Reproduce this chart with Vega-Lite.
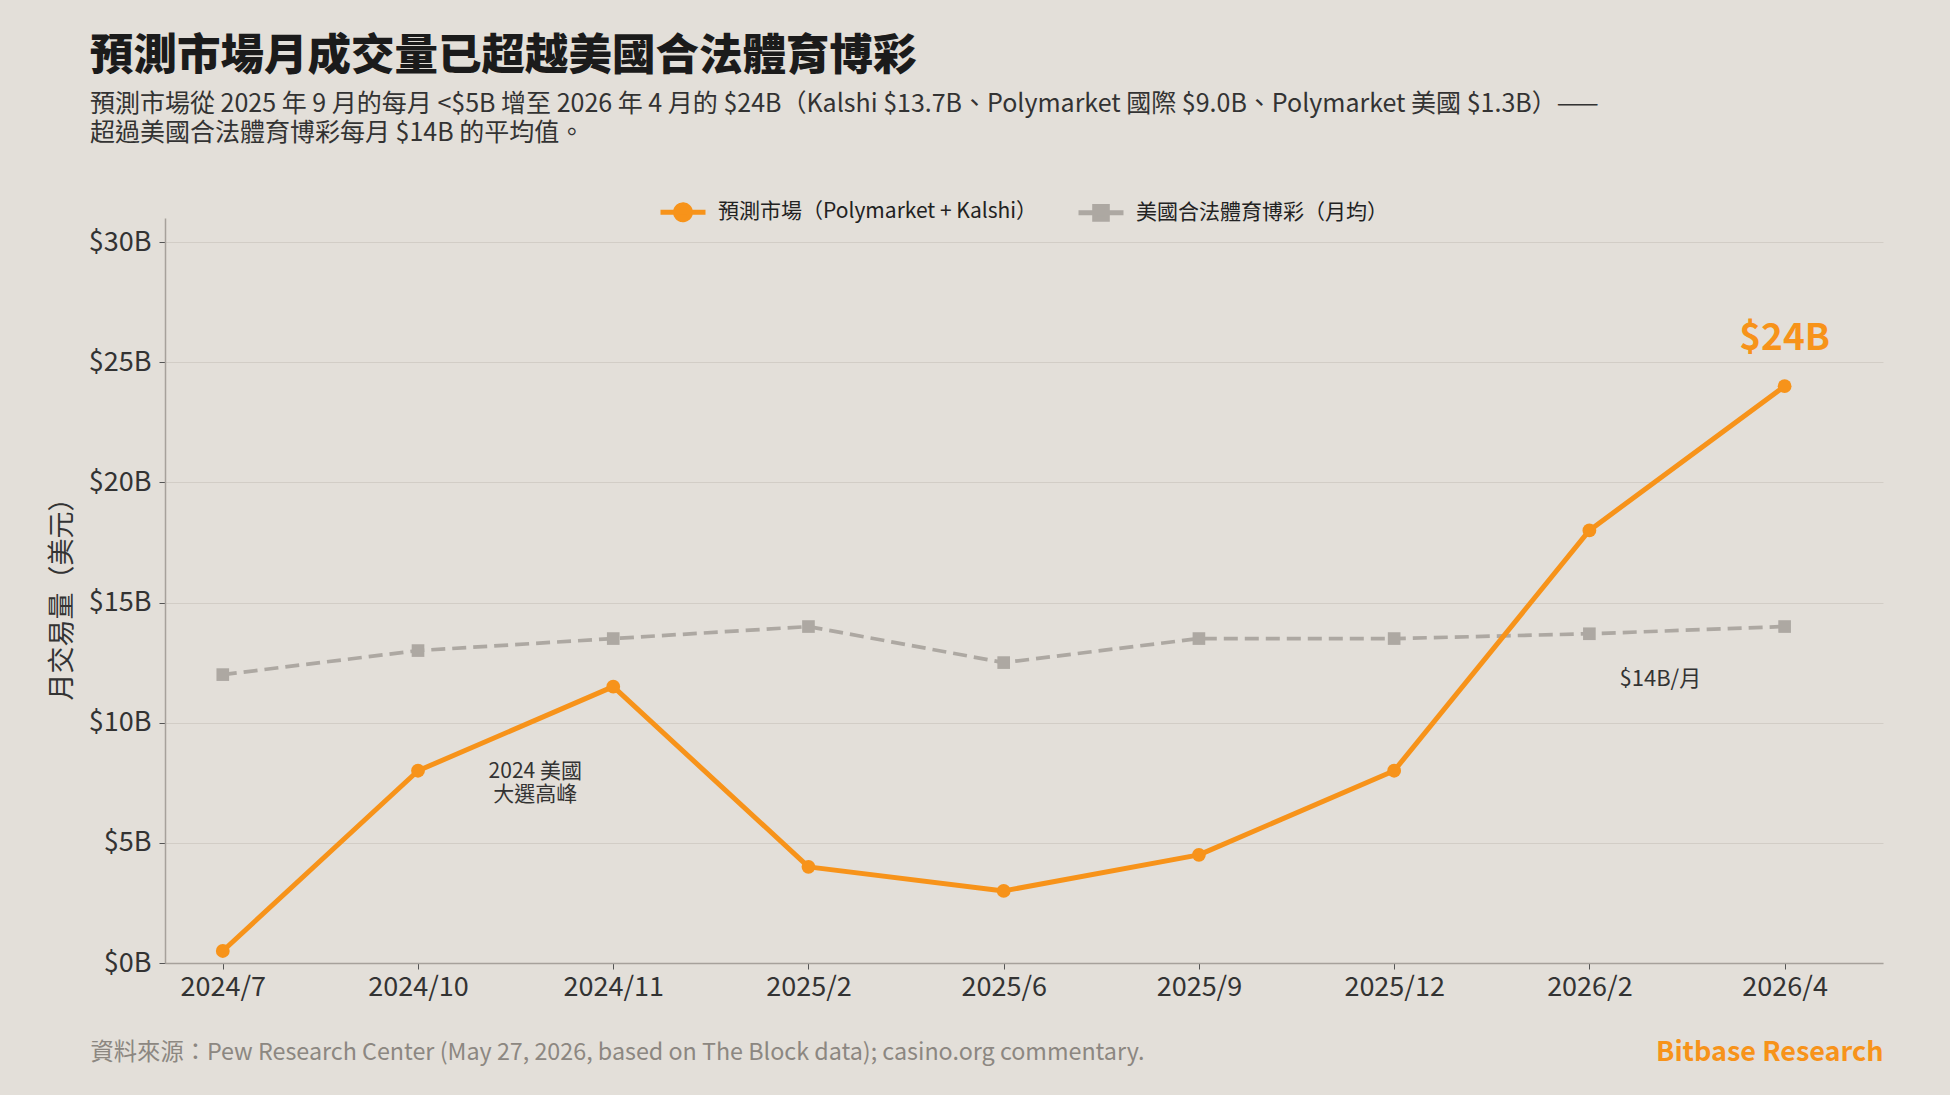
{
  "$schema": "https://vega.github.io/schema/vega-lite/v6.json",
  "autosize": {"type": "none"},
  "width": 1718,
  "height": 745,
  "padding": {"left": 165, "top": 218, "right": 67, "bottom": 132},
  "background": "#E3DFD9",
  "config": {
    "font": "Noto Sans CJK TC",
    "view": {"stroke": null},
    "axis": {"labelFont": "Noto Sans CJK TC", "titleFont": "Noto Sans CJK TC"},
    "legend": {"labelFont": "Noto Sans CJK TC"}
  },
  "title": {
    "text": "預測市場月成交量已超越美國合法體育博彩",
    "subtitle": ["預測市場從 2025 年 9 月的每月 <$5B 增至 2026 年 4 月的 $24B（Kalshi $13.7B、Polymarket 國際 $9.0B、Polymarket 美國 $1.3B）——", "超過美國合法體育博彩每月 $14B 的平均值。"],
    "anchor": "start",
    "frame": "group",
    "dx": -75,
    "offset": 40,
    "fontSize": 43.5,
    "fontWeight": 900,
    "color": "#1B1B1B",
    "subtitleFontSize": 25,
    "subtitleColor": "#333333",
    "subtitleLineHeight": 29.5,
    "subtitlePadding": 12
  },
  "datasets": {
    "series": [
      {"month": "2024/7", "series": "預測市場（Polymarket + Kalshi）", "value": 0.5},
      {"month": "2024/10", "series": "預測市場（Polymarket + Kalshi）", "value": 8},
      {"month": "2024/11", "series": "預測市場（Polymarket + Kalshi）", "value": 11.5},
      {"month": "2025/2", "series": "預測市場（Polymarket + Kalshi）", "value": 4},
      {"month": "2025/6", "series": "預測市場（Polymarket + Kalshi）", "value": 3},
      {"month": "2025/9", "series": "預測市場（Polymarket + Kalshi）", "value": 4.5},
      {"month": "2025/12", "series": "預測市場（Polymarket + Kalshi）", "value": 8},
      {"month": "2026/2", "series": "預測市場（Polymarket + Kalshi）", "value": 18},
      {"month": "2026/4", "series": "預測市場（Polymarket + Kalshi）", "value": 24},
      {"month": "2024/7", "series": "美國合法體育博彩（月均）", "value": 12},
      {"month": "2024/10", "series": "美國合法體育博彩（月均）", "value": 13},
      {"month": "2024/11", "series": "美國合法體育博彩（月均）", "value": 13.5},
      {"month": "2025/2", "series": "美國合法體育博彩（月均）", "value": 14},
      {"month": "2025/6", "series": "美國合法體育博彩（月均）", "value": 12.5},
      {"month": "2025/9", "series": "美國合法體育博彩（月均）", "value": 13.5},
      {"month": "2025/12", "series": "美國合法體育博彩（月均）", "value": 13.5},
      {"month": "2026/2", "series": "美國合法體育博彩（月均）", "value": 13.7},
      {"month": "2026/4", "series": "美國合法體育博彩（月均）", "value": 14}
    ],
    "notes": [
      {"kind": "peak", "month": "2024/11", "value": 7.95, "label": ["2024 美國", "大選高峰"]},
      {"kind": "avg", "month": "2026/2", "value": 11.8, "label": "$14B/月"},
      {"kind": "last", "month": "2026/4", "value": 24, "label": "$24B"}
    ]
  },
  "encoding": {
    "x": {
      "field": "month",
      "type": "ordinal",
      "sort": null,
      "scale": {"type": "point", "domain": ["2024/7", "2024/10", "2024/11", "2025/2", "2025/6", "2025/9", "2025/12", "2026/2", "2026/4"], "padding": 0.4, "align": 0.37},
      "axis": {
        "title": "資料來源：Pew Research Center (May 27, 2026, based on The Block data); casino.org commentary.",
        "titleX": -75,
        "titleY": 89,
        "titleAlign": "left",
        "titleBaseline": "middle",
        "titleFontSize": 23.3,
        "titleFontWeight": "normal",
        "titleColor": "#8C8781",
        "labelAngle": 0,
        "labelFontSize": 27,
        "labelColor": "#333333",
        "labelPadding": 5,
        "domainColor": "#A6A19B",
        "domainWidth": 1.5,
        "tickColor": "#555555",
        "tickSize": 6,
        "grid": false
      }
    }
  },
  "layer": [
    {
      "data": {"name": "series"},
      "transform": [{"filter": "datum.series === '美國合法體育博彩（月均）'"}],
      "mark": {"type": "line", "strokeWidth": 3.7, "strokeDash": [14, 7]},
      "encoding": {
        "y": {
          "field": "value",
          "type": "quantitative",
          "scale": {"domain": [0, 31], "nice": false},
          "axis": {
            "values": [0, 5, 10, 15, 20, 25, 30],
            "labelExpr": "'$' + datum.value + 'B'",
            "title": "月交易量（美元）",
            "titleX": -103,
            "titleY": 374,
            "titleAngle": -90,
            "titleAlign": "center",
            "titleBaseline": "middle",
            "titleFontSize": 27,
            "titleFontWeight": "normal",
            "titleColor": "#333333",
            "labelFontSize": 27,
            "labelColor": "#333333",
            "labelPadding": 8,
            "domainColor": "#A6A19B",
            "domainWidth": 1.5,
            "tickColor": "#555555",
            "tickSize": 6,
            "gridColor": "#D2CDC6",
            "gridWidth": 1
          }
        },
        "color": {
          "field": "series",
          "type": "nominal",
          "scale": {"domain": ["預測市場（Polymarket + Kalshi）", "美國合法體育博彩（月均）"], "range": ["#F7931A", "#ADA8A2"]},
          "legend": {
            "orient": "none",
            "direction": "horizontal",
            "legendX": 493,
            "legendY": -31,
            "title": null,
            "padding": 0,
            "columnPadding": 30,
            "labelFontSize": 21,
            "labelColor": "#222222",
            "labelOffset": 10,
            "labelLimit": 0,
            "symbolSize": 2025,
            "encode": {
              "symbols": {
                "update": {
                  "shape": {"signal": "datum.value === '預測市場（Polymarket + Kalshi）' ? 'M-1,0H1M0.33,0A0.33,0.33 0 1,1 -0.33,0A0.33,0.33 0 1,1 0.33,0' : 'M-1,0H1M-0.28,-0.28H0.28V0.28H-0.28Z'"},
                  "size": {"value": 2025},
                  "fill": {"signal": "datum.value === '預測市場（Polymarket + Kalshi）' ? '#F7931A' : '#ADA8A2'"},
                  "stroke": {"signal": "datum.value === '預測市場（Polymarket + Kalshi）' ? '#F7931A' : '#ADA8A2'"},
                  "strokeWidth": {"value": 5},
                  "strokeDash": {"value": [1, 0]},
                  "strokeOpacity": {"value": 1},
                  "fillOpacity": {"value": 1},
                  "opacity": {"value": 1}
                }
              }
            }
          }
        }
      }
    },
    {
      "data": {"name": "series"},
      "transform": [{"filter": "datum.series === '美國合法體育博彩（月均）'"}],
      "mark": {"type": "point", "shape": "square", "filled": true, "opacity": 1, "size": 160},
      "encoding": {
        "y": {"field": "value", "type": "quantitative", "axis": null},
        "color": {"field": "series", "type": "nominal"}
      }
    },
    {
      "data": {"name": "series"},
      "transform": [{"filter": "datum.series === '預測市場（Polymarket + Kalshi）'"}],
      "mark": {"type": "line", "strokeWidth": 5, "strokeJoin": "round"},
      "encoding": {
        "y": {"field": "value", "type": "quantitative", "axis": null},
        "color": {"field": "series", "type": "nominal"}
      }
    },
    {
      "data": {"name": "series"},
      "transform": [{"filter": "datum.series === '預測市場（Polymarket + Kalshi）'"}],
      "mark": {"type": "point", "shape": "circle", "filled": true, "opacity": 1, "size": 190},
      "encoding": {
        "y": {"field": "value", "type": "quantitative", "axis": null},
        "color": {"field": "series", "type": "nominal"}
      }
    },
    {
      "data": {"name": "notes"},
      "transform": [{"filter": "datum.kind === 'peak'"}],
      "mark": {"type": "text", "fontSize": 21, "color": "#333333", "dx": -78, "lineHeight": 23.5, "align": "center", "baseline": "middle"},
      "encoding": {
        "y": {"field": "value", "type": "quantitative", "axis": null},
        "text": {"field": "label"}
      }
    },
    {
      "data": {"name": "notes"},
      "transform": [{"filter": "datum.kind === 'avg'"}],
      "mark": {"type": "text", "fontSize": 22, "color": "#333333", "dx": 71, "align": "center", "baseline": "middle"},
      "encoding": {
        "y": {"field": "value", "type": "quantitative", "axis": null},
        "text": {"field": "label"}
      }
    },
    {
      "data": {"name": "notes"},
      "transform": [{"filter": "datum.kind === 'last'"}],
      "mark": {"type": "text", "fontSize": 37, "fontWeight": "bold", "color": "#F7931A", "dy": -47, "align": "center", "baseline": "middle"},
      "encoding": {
        "y": {
          "field": "value",
          "type": "quantitative",
          "axis": {
            "orient": "right",
            "labels": false,
            "ticks": false,
            "domain": false,
            "grid": false,
            "title": "Bitbase Research",
            "titleAngle": 0,
            "titleX": 0,
            "titleY": 834,
            "titleAlign": "right",
            "titleBaseline": "middle",
            "titleFontSize": 27,
            "titleFontWeight": "bold",
            "titleColor": "#F7931A"
          }
        },
        "text": {"field": "label"}
      }
    }
  ],
  "resolve": {"axis": {"y": "independent"}}
}
